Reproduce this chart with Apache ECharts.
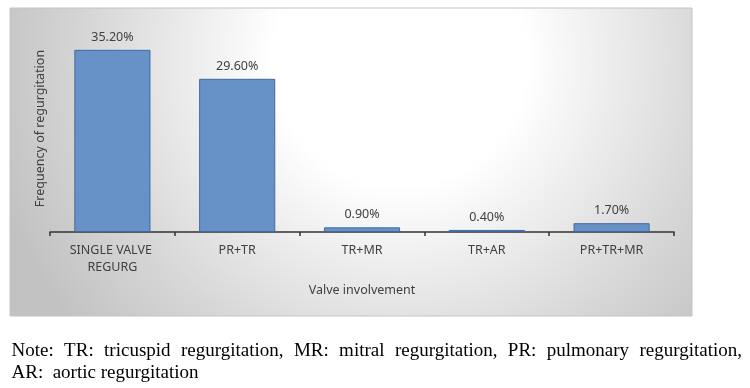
<!DOCTYPE html>
<html>
<head>
<meta charset="utf-8">
<script src="https://cdn.jsdelivr.net/npm/echarts@6/dist/echarts.min.js"></script>
<style>
html,body{margin:0;padding:0;background:#fff;}
#chart{width:750px;height:388px;}
</style>
</head>
<body>
<div id="chart"></div>
<script>
var categories = ['SINGLE VALVE REGURG', 'PR+TR', 'TR+MR', 'TR+AR', 'PR+TR+MR'];
var frequency = [35.2, 29.6, 0.9, 0.4, 1.7];
var xAxisTitle = 'Valve involvement';
var yAxisTitle = 'Frequency of regurgitation';
var noteLine1 = ['Note:', 'TR:', 'tricuspid', 'regurgitation,', 'MR:', 'mitral', 'regurgitation,', 'PR:', 'pulmonary', 'regurgitation,'];
var noteLine2 = 'AR:  aortic regurgitation';

var chart = echarts.init(document.getElementById('chart'), null, {renderer: 'canvas'});

var sansFont = '"Noto Sans", "Open Sans", sans-serif';
var serifFont = '"Liberation Serif", "DejaVu Serif", serif';

// justified note line 1
var noteSize = 19;
var cv = document.createElement('canvas').getContext('2d');
cv.font = noteSize + 'px ' + serifFont;
var x0 = 11.5, x1 = 742;
var widths = noteLine1.map(function (w) { return cv.measureText(w).width; });
var total = widths.reduce(function (a, b) { return a + b; }, 0);
var gap = (x1 - x0 - total) / (noteLine1.length - 1);
var noteEls = [];
var cx = x0;
noteLine1.forEach(function (w, i) {
  noteEls.push({
    type: 'text', x: cx, y: 351,
    style: {text: w, font: noteSize + 'px ' + serifFont, fill: '#000', textVerticalAlign: 'middle', verticalAlign: 'middle'}
  });
  cx += widths[i] + gap;
});
noteEls.push({
  type: 'text', x: x0, y: 373,
  style: {text: noteLine2, font: noteSize + 'px ' + serifFont, fill: '#000', textVerticalAlign: 'middle', verticalAlign: 'middle'}
});

var bgRect = {
  type: 'rect', z: -10,
  shape: {x: 10, y: 8, width: 682, height: 308},
  style: {
    fill: new echarts.graphic.RadialGradient(400, 60, 420, [
      {offset: 0, color: '#ffffff'},
      {offset: 0.3, color: '#ffffff'},
      {offset: 0.75, color: '#d6d6d6'},
      {offset: 1, color: '#c2c2c2'}
    ], true),
    stroke: '#c4c4c4', lineWidth: 1
  }
};

var option = {
  backgroundColor: '#ffffff',
  animation: false,
  graphic: [bgRect].concat(noteEls),
  grid: {left: 50, right: 76, top: 25, bottom: 156},
  xAxis: {
    type: 'category',
    data: categories,
    boundaryGap: true,
    name: xAxisTitle,
    nameLocation: 'middle',
    nameGap: 52,
    nameTextStyle: {color: '#404040', fontFamily: sansFont, fontSize: 12.5},
    axisLine: {show: true, lineStyle: {color: '#333333', width: 1.5}},
    axisTick: {show: true, alignWithLabel: false, length: 4, lineStyle: {color: '#333333', width: 1.5}},
    axisLabel: {
      color: '#404040', fontFamily: sansFont, fontSize: 12.5, margin: 10,
      width: 110, overflow: 'break', lineHeight: 17, interval: 0
    }
  },
  yAxis: {
    type: 'value', min: 0, max: 40,
    name: yAxisTitle,
    nameLocation: 'middle',
    nameGap: 3,
    nameTextStyle: {color: '#404040', fontFamily: sansFont, fontSize: 12.5},
    axisLine: {show: false}, axisTick: {show: false}, axisLabel: {show: false}, splitLine: {show: false}
  },
  series: [{
    type: 'bar',
    data: frequency,
    barWidth: '61%',
    itemStyle: {color: '#6792c8', borderColor: '#41699f', borderWidth: 1},
    label: {
      show: true, position: 'top', distance: 6,
      color: '#404040', fontFamily: sansFont, fontSize: 12.5,
      formatter: function (p) { return p.value.toFixed(2) + '%'; }
    }
  }]
};
chart.setOption(option);
</script>
</body>
</html>
